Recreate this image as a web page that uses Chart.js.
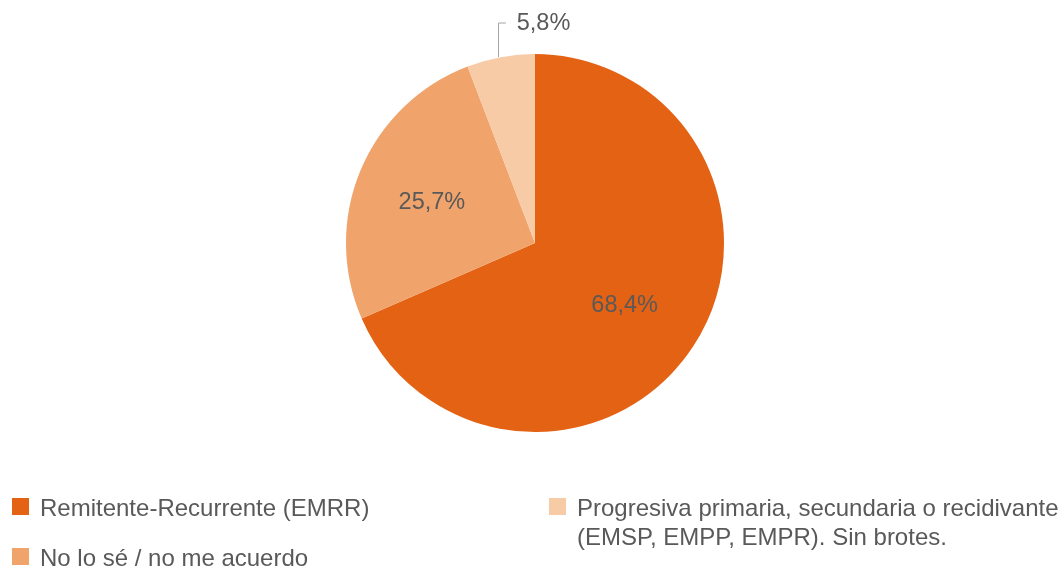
<!DOCTYPE html>
<html>
<head>
<meta charset="utf-8">
<script src="https://cdn.jsdelivr.net/npm/chart.js@4"></script>
<style>
  body { margin: 0; background: #fff; font-family: "Liberation Sans", Arial, sans-serif; }
  #wrap { position: relative; width: 1059px; height: 571px; }
  canvas { position: absolute; left: 0; top: 0; }
  .leg { position: absolute; font-size: 24px; color: #595959; line-height: 29px; white-space: nowrap; }
  .leg i { position: absolute; left: -28px; top: 5px; width: 17px; height: 17px; }
</style>
</head>
<body>
<div id="wrap">
  <canvas id="pie" width="1059" height="571"></canvas>
  <div id="legend"></div>
</div>
<script>
// data
const labels = ["Remitente-Recurrente (EMRR)", "No lo sé / no me acuerdo", "Progresiva primaria, secundaria o recidivante (EMSP, EMPP, EMPR). Sin brotes."];
const values = [68.4, 25.7, 5.8];
const colors = ["#E46213", "#F0A46C", "#F8CBA7"];

// legend, two columns like the original
const legendPos = [
  { left: 40, top: 493, lines: ["Remitente-Recurrente (EMRR)"] },
  { left: 40, top: 543, lines: ["No lo sé / no me acuerdo"] },
  { left: 577, top: 493, lines: ["Progresiva primaria, secundaria o recidivante", "(EMSP, EMPP, EMPR). Sin brotes."] }
];
const legendEl = document.getElementById("legend");
legendPos.forEach((p, i) => {
  const d = document.createElement("div");
  d.className = "leg";
  d.style.left = p.left + "px";
  d.style.top = p.top + "px";
  d.innerHTML = '<i style="background:' + colors[i] + '"></i>' + p.lines.join("<br>");
  legendEl.appendChild(d);
});

const fmt = (v) => v.toFixed(1).replace(".", ",") + "%";

// draws the percent labels, the small one outside with a leader line
const pieLabels = {
  id: "pieLabels",
  afterDatasetsDraw(chart) {
    const ctx = chart.ctx;
    const arcs = chart.getDatasetMeta(0).data;
    ctx.save();
    ctx.font = '23.5px "Liberation Sans", Arial, sans-serif';
    ctx.fillStyle = "#595959";
    ctx.textBaseline = "middle";
    arcs.forEach((arc, i) => {
      const mid = (arc.startAngle + arc.endAngle) / 2;
      if (values[i] > 10) {
        const r = arc.outerRadius * 0.58;
        ctx.textAlign = "center";
        ctx.fillText(fmt(values[i]), arc.x + Math.cos(mid) * r - 2, arc.y + Math.sin(mid) * r + 2);
      } else {
        const sx = arc.x + Math.cos(mid) * arc.outerRadius;
        const sy = arc.y + Math.sin(mid) * arc.outerRadius;
        const ty = arc.y - arc.outerRadius - 31;
        ctx.strokeStyle = "#A6A6A6";
        ctx.lineWidth = 1;
        ctx.beginPath();
        ctx.moveTo(Math.round(sx) - 2.5, sy);
        ctx.lineTo(Math.round(sx) - 2.5, ty);
        ctx.lineTo(Math.round(sx) + 5, ty);
        ctx.stroke();
        ctx.textAlign = "left";
        ctx.fillText(fmt(values[i]), sx + 16, ty + 1);
      }
    });
    ctx.restore();
  }
};

new Chart(document.getElementById("pie"), {
  type: "pie",
  data: {
    labels: labels,
    datasets: [{
      data: values,
      backgroundColor: colors,
      borderWidth: 0
    }]
  },
  options: {
    responsive: false,
    animation: false,
    layout: { padding: { top: 54, bottom: 139, left: 11, right: 0 } },
    plugins: {
      legend: { display: false },
      tooltip: { enabled: false }
    }
  },
  plugins: [pieLabels]
});
</script>
</body>
</html>
